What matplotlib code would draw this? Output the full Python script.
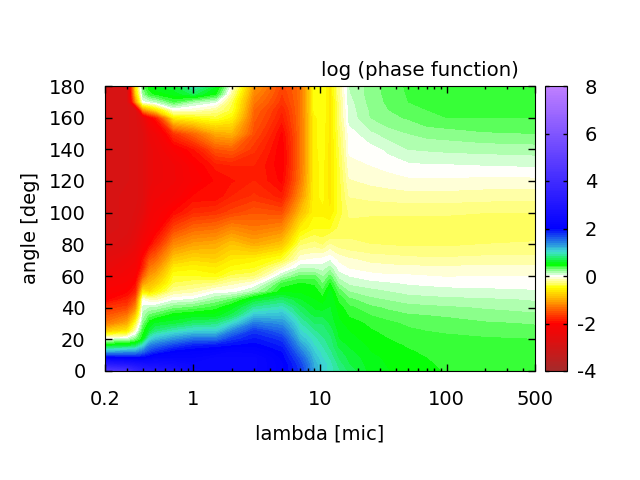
import numpy as np
import matplotlib
matplotlib.use('Agg')
import matplotlib.pyplot as plt
from matplotlib.colors import LinearSegmentedColormap, Normalize
from matplotlib.ticker import FormatStrFormatter

plt.rcParams['font.family'] = ['DejaVu Sans']
plt.rcParams['font.size'] = 14

lam = [0.2, 0.3, 0.35, 0.4, 0.45, 0.5, 0.7, 1, 1.5, 2, 3, 5, 7, 9, 10.5, 12, 14, 17, 25, 35, 50, 70, 100, 200, 500]
angle = [0, 4, 8, 12, 16, 20, 25, 30, 35, 40, 45, 50, 55, 60, 65, 70, 80, 90, 100, 110, 120, 130, 140, 150, 160, 165, 170, 175, 180]

# log10 of the phase function, one row per angle, one value per lambda
phase = [
    [4.6, 4.2, 3.6, 3.3, 3.2, 3.1, 2.9, 2.4, 2.3, 2.3, 2.3, 2.05, 1.75, 1.25, 1.05, .95, .85, .72, .56, .52, .50, .46, .43, .43, .43],
    [3.2, 3.0, 2.8, 2.7, 2.6, 2.6, 2.5, 2.3, 2.3, 2.35, 2.3, 2.05, 1.7, 1.22, 1.05, .95, .80, .68, .55, .51, .49, .45, .42, .42, .42],
    [2.1, 2.0, 2.0, 2.0, 2.1, 2.2, 2.2, 2.2, 2.3, 2.3, 2.3, 2.0, 1.6, 1.15, 1.0, .90, .75, .65, .54, .50, .47, .44, .42, .41, .40],
    [1.2, 1.3, 1.3, 1.5, 1.7, 1.8, 2.0, 2.05, 2.1, 2.2, 2.15, 1.95, 1.45, 1.08, .95, .85, .70, .62, .52, .48, .45, .42, .41, .39, .39],
    [.55, .60, .70, 1.0, 1.4, 1.5, 1.7, 1.85, 1.9, 1.95, 2.0, 1.85, 1.3, 1.0, .90, .80, .65, .58, .50, .46, .43, .41, .40, .38, .38],
    [.05, .10, .25, .50, 1.0, 1.15, 1.35, 1.5, 1.5, 1.75, 1.9, 1.75, 1.15, .95, .85, .78, .60, .55, .47, .44, .41, .39, .38, .37, .36],
    [-.8, -.6, -.1, .40, .65, .80, .95, 1.05, 1.05, 1.4, 1.75, 1.55, 1.02, .85, .80, .72, .57, .52, .45, .41, .38, .36, .35, .33, .32],
    [-1.3, -1.0, -.4, .25, .50, .60, .65, .75, .80, 1.0, 1.45, 1.35, .92, .75, .75, .65, .54, .48, .42, .38, .34, .32, .31, .29, .27],
    [-1.5, -1.3, -.8, .15, .30, .35, .50, .55, .55, .70, 1.1, 1.15, .80, .65, .65, .62, .51, .43, .36, .32, .29, .28, .27, .24, .22],
    [-1.7, -1.6, -1.2, .08, .12, .12, .25, .30, .40, .55, .85, .95, .70, .58, .55, .60, .48, .38, .30, .26, .23, .22, .21, .19, .16],
    [-2.0, -1.8, -1.5, -.05, -.15, -.15, .02, .05, .20, .30, .60, .75, .60, .52, .47, .58, .42, .30, .22, .19, .16, .15, .14, .13, .11],
    [-2.1, -2.0, -1.8, -.6, -.7, -.55, -.2, -.15, .0, .0, .15, .50, .50, .50, .38, .55, .33, .20, .15, .12, .09, .08, .07, .06, .05],
    [-2.2, -2.1, -1.95, -1.1, -.9, -.8, -.35, -.3, -.25, -.15, -.05, .38, .45, .42, .28, .45, .20, .10, .07, .05, .03, .02, .01, .01, .0],
    [-2.4, -2.2, -2.1, -1.5, -1.1, -1.0, -.45, -.45, -.5, -.35, -.3, .12, .30, .30, .18, .30, .08, .03, -.02, -.03, -.03, -.04, -.05, -.04, -.04],
    [-2.5, -2.3, -2.2, -1.8, -1.3, -1.2, -.6, -.55, -.6, -.5, -.45, -.12, .10, .10, .08, .15, .0, -.05, -.07, -.09, -.10, -.10, -.10, -.10, -.10],
    [-2.6, -2.4, -2.3, -1.9, -1.5, -1.4, -.8, -.7, -.75, -.6, -.55, -.4, -.05, -.02, .0, .03, -.06, -.10, -.15, -.16, -.17, -.18, -.18, -.17, -.17],
    [-2.8, -2.7, -2.5, -2.2, -2.0, -1.8, -1.2, -1.05, -1.0, -.85, -1.0, -.85, -.30, -.25, -.30, -.20, -.25, -.27, -.28, -.29, -.30, -.30, -.30, -.28, -.27],
    [-2.9, -2.8, -2.65, -2.4, -2.2, -2.1, -1.6, -1.4, -1.35, -1.2, -1.3, -1.2, -.60, -.45, -.45, -.45, -.35, -.30, -.32, -.33, -.33, -.33, -.33, -.33, -.33],
    [-2.9, -2.8, -2.75, -2.6, -2.3, -2.2, -1.95, -1.75, -1.7, -1.6, -1.5, -1.55, -.90, -.55, -.55, -.60, -.42, -.27, -.27, -.27, -.27, -.27, -.27, -.28, -.28],
    [-2.9, -2.8, -2.8, -2.7, -2.4, -2.3, -2.2, -1.95, -1.95, -1.8, -1.7, -1.85, -1.15, -.55, -.50, -.65, -.42, -.20, -.18, -.17, -.16, -.16, -.16, -.17, -.18],
    [-2.9, -2.85, -2.8, -2.7, -2.5, -2.4, -2.3, -2.1, -1.95, -1.9, -1.8, -2.0, -1.3, -.55, -.50, -.65, -.42, -.13, -.10, -.08, -.06, -.06, -.06, -.07, -.07],
    [-2.9, -2.85, -2.8, -2.7, -2.5, -2.4, -2.3, -2.05, -1.85, -1.8, -1.8, -2.05, -1.35, -.55, -.50, -.65, -.40, -.07, -.04, -.01, .02, .03, .03, .04, .05],
    [-2.9, -2.85, -2.8, -2.7, -2.5, -2.4, -2.1, -1.9, -1.5, -1.45, -1.7, -2.05, -1.35, -.55, -.48, -.65, -.38, -.02, .0, .06, .12, .13, .14, .15, .16],
    [-2.9, -2.85, -2.8, -2.7, -2.4, -2.3, -1.7, -1.4, -1.0, -.95, -1.55, -2.0, -1.35, -.55, -.47, -.65, -.35, .0, .10, .16, .20, .23, .24, .27, .28],
    [-2.9, -2.85, -2.8, -2.5, -2.1, -1.9, -.60, -.50, -.40, -.55, -1.45, -1.85, -1.35, -.55, -.46, -.65, -.30, .07, .20, .26, .29, .34, .36, .36, .36],
    [-2.9, -2.85, -2.8, -1.2, -.9, -.70, -.05, -.10, -.20, -.40, -1.4, -1.8, -1.35, -.50, -.46, -.65, -.30, .08, .21, .28, .32, .36, .38, .38, .38],
    [-2.9, -2.85, -1.2, .0, .05, .10, .35, .15, .05, -.35, -1.3, -1.7, -1.35, -.50, -.45, -.65, -.30, .09, .23, .30, .36, .39, .40, .40, .40],
    [-2.9, -2.85, -.8, .20, .40, .45, .55, .70, .45, -.20, -1.2, -1.65, -1.35, -.50, -.45, -.65, -.25, .11, .24, .31, .37, .40, .41, .41, .41],
    [-2.9, -2.85, -.6, .30, .50, .60, .65, .95, .60, -.05, -1.1, -1.6, -1.35, -.50, -.45, -.65, -.25, .12, .24, .31, .38, .40, .42, .42, .42],
]

x_ticks = [0.2, 1, 10, 100, 500]
x_labels = ['0.2', '1', '10', '100', '500']
x_minor = [0.3, 0.4, 0.5, 0.6, 0.7, 0.8, 0.9, 2, 3, 4, 5, 6, 7, 8, 9, 20, 30, 40, 50, 60, 70, 80, 90, 200, 300, 400]
y_ticks = [0, 20, 40, 60, 80, 100, 120, 140, 160, 180]
cb_ticks = [-4, -2, 0, 2, 4, 6, 8]

# palette stops: value, colour
stops = [(-4, '#a52a2a'), (-2, '#ff0000'), (-0.5, '#ffff00'), (0, '#ffffff'),
         (0.5, '#00ff00'), (1, '#40e0d0'), (2, '#0000ff'), (8, '#c080ff')]
cmap = LinearSegmentedColormap.from_list(
    'phase', [((v + 4) / 12, c) for v, c in stops], N=512)
norm = Normalize(-4, 8)
levels = np.arange(-4.04, 8.05, 0.08)

fig = plt.figure(figsize=(6.4, 4.8), dpi=100)
ax = fig.add_axes([105 / 640, 1 - 371 / 480, 430 / 640, 285 / 480])
cs = ax.contourf(lam, angle, np.array(phase), levels=levels, cmap=cmap, norm=norm,
                 antialiased=False)
ax.set_xscale('log')
ax.set_xlim(0.2, 500)
ax.set_ylim(0, 180)
ax.set_xticks(x_ticks)
ax.set_xticklabels(x_labels)
ax.set_xticks(x_minor, minor=True)
ax.set_xticklabels([], minor=True)
ax.set_yticks(y_ticks)
ax.tick_params(which='major', direction='in', top=True, right=True, length=5, width=1, pad=14)
ax.tick_params(which='minor', direction='in', top=True, right=True, length=2.5, width=1)
ax.set_xlabel('lambda [mic]', labelpad=10.5)
ax.set_ylabel('angle [deg]', labelpad=6)

fig.text(519 / 640, 1 - 71 / 480, 'log (phase function)', ha='right', va='center', fontsize=14.2)

cax = fig.add_axes([545 / 640, 1 - 371 / 480, 22 / 640, 285 / 480])
cb = fig.colorbar(cs, cax=cax, ticks=cb_ticks)
cax.set_ylim(-4, 8)
cax.tick_params(direction='in', left=True, right=True, length=3, width=1, pad=21.6)
cax.yaxis.set_major_formatter(FormatStrFormatter('%d'))
for t in cax.get_yticklabels():
    t.set_ha('right')

plt.savefig('out.png', dpi=100)
